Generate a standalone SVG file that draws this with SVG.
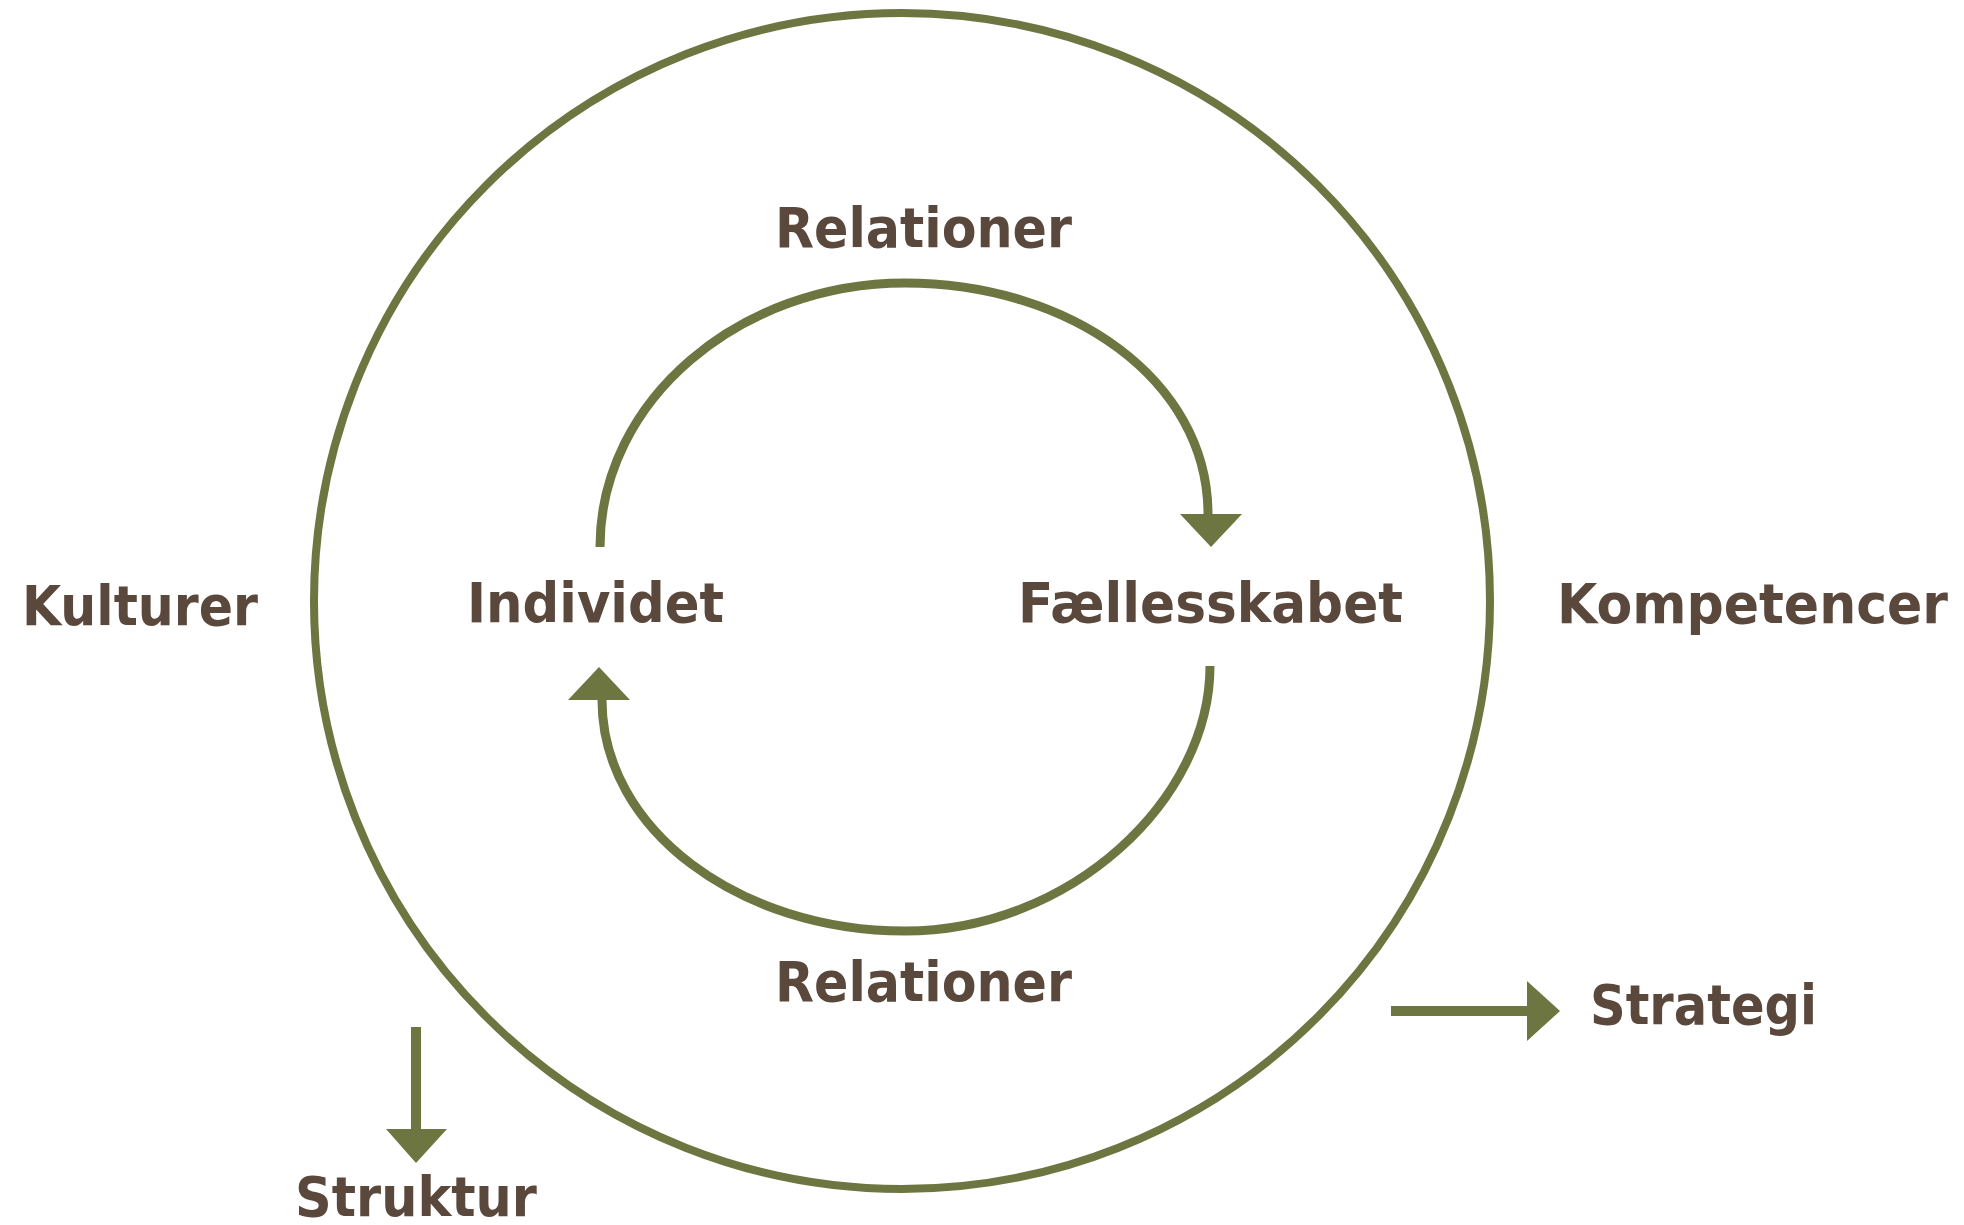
<svg xmlns="http://www.w3.org/2000/svg" width="1964" height="1225" viewBox="0 0 1964 1225">
<style>
.lbl{font-family:"DejaVu Sans","Liberation Sans",sans-serif;font-weight:bold;font-size:56px;fill:#5b483c}
.ln{fill:none;stroke:#6d7641;stroke-width:9}
.ah{fill:#6d7641}
</style>
<rect width="1964" height="1225" fill="#ffffff"/>
<g id="outer-circle"><circle cx="902" cy="601" r="588" fill="none" stroke="#6d7641" stroke-width="8"/></g>
<g id="connectors">
<path class="ln" d="M600 547 C600 400 740 283 905 283 C1070 283 1208 380 1208 514"/>
<polygon class="ah" points="1180,514 1242,514 1211,547"/>
<path class="ln" d="M1210 666 C1210 800 1070 931 905 931 C740 931 602 830 602 700"/>
<polygon class="ah" points="568,700 630,700 599,667"/>
<line x1="416" y1="1027" x2="416" y2="1130" stroke="#6d7641" stroke-width="10"/>
<polygon class="ah" points="386,1129 447,1129 416,1163"/>
<line x1="1391" y1="1011" x2="1528" y2="1011" stroke="#6d7641" stroke-width="10"/>
<polygon class="ah" points="1527,981 1527,1041 1560,1011"/>
</g>
<g id="relationer-top"><text class="lbl" x="775" y="247" textLength="297" lengthAdjust="spacingAndGlyphs">Relationer</text></g>
<g id="relationer-bottom"><text class="lbl" x="775" y="1001" textLength="297" lengthAdjust="spacingAndGlyphs">Relationer</text></g>
<g id="individet"><text class="lbl" x="467" y="622" textLength="257" lengthAdjust="spacingAndGlyphs">Individet</text></g>
<g id="faellesskabet"><text class="lbl" x="1018" y="622" textLength="385" lengthAdjust="spacingAndGlyphs">Fællesskabet</text></g>
<g id="kulturer"><text class="lbl" x="22" y="625" textLength="236" lengthAdjust="spacingAndGlyphs">Kulturer</text></g>
<g id="kompetencer"><text class="lbl" x="1557" y="623" textLength="391" lengthAdjust="spacingAndGlyphs">Kompetencer</text></g>
<g id="strategi"><text class="lbl" x="1590" y="1024" textLength="227" lengthAdjust="spacingAndGlyphs">Strategi</text></g>
<g id="struktur"><text class="lbl" x="295" y="1216" textLength="242" lengthAdjust="spacingAndGlyphs">Struktur</text></g>
</svg>
